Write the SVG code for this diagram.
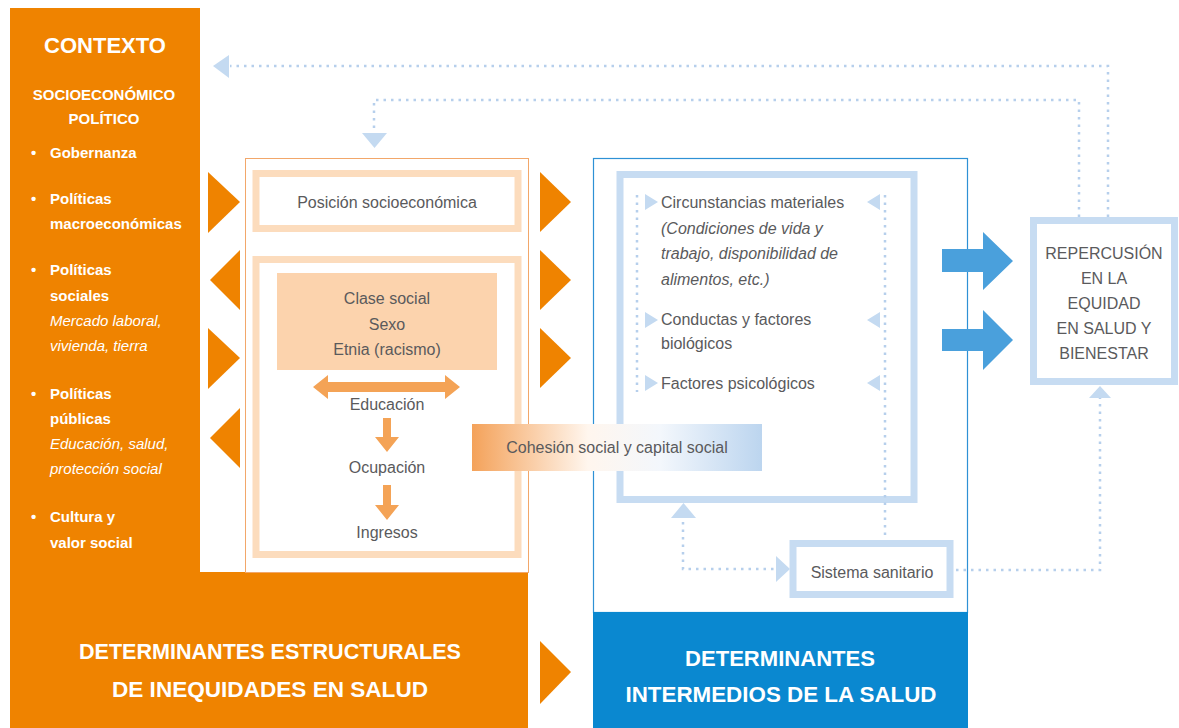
<svg xmlns="http://www.w3.org/2000/svg" width="1179" height="728" viewBox="0 0 1179 728">
<defs>
<style>
.t{font-family:"Liberation Sans",Arial,sans-serif;fill:#5a5a5c;font-size:16px}
.w{font-family:"Liberation Sans",Arial,sans-serif;fill:#fff;font-weight:bold;font-size:15px}
.wi{font-family:"Liberation Sans",Arial,sans-serif;fill:#fff;font-style:italic;font-size:15px}
.big{font-family:"Liberation Sans",Arial,sans-serif;fill:#fff;font-weight:bold;font-size:22px}
.dot{fill:none;stroke:#b6cfec;stroke-width:2.5;stroke-dasharray:2.5 5}
.lo{fill:none;stroke:#fcdcbd;stroke-width:7}
.lb{fill:none;stroke:#c7dcf2;stroke-width:7}
.or{fill:#ef8300}
.tri{fill:#c4daf1}
</style>
<linearGradient id="coh" x1="0" y1="0" x2="1" y2="0">
<stop offset="0" stop-color="#f4a25a"/>
<stop offset="0.4" stop-color="#fff6ee"/>
<stop offset="0.65" stop-color="#f3f7fc"/>
<stop offset="1" stop-color="#bcd5ef"/>
</linearGradient>
</defs>
<rect width="1179" height="728" fill="#fff"/>

<g id="contexto">
<path class="or" d="M10 8H200V572H528V728H10Z"/>
<text class="big" x="105" y="53" text-anchor="middle" font-size="23">CONTEXTO</text>
<text class="w" x="104" y="100" text-anchor="middle" font-size="14">SOCIOECONÓMICO</text>
<text class="w" x="104" y="124" text-anchor="middle" font-size="14">POLÍTICO</text>
<g class="w" font-size="16">
<text x="31" y="158">•</text>
<text x="31" y="204">•</text>
<text x="31" y="275">•</text>
<text x="31" y="399">•</text>
<text x="31" y="522">•</text>
</g>
<text class="w" x="50" y="158">Gobernanza</text>
<text class="w" x="50" y="204">Políticas</text>
<text class="w" x="50" y="229">macroeconómicas</text>
<text class="w" x="50" y="275">Políticas</text>
<text class="w" x="50" y="301">sociales</text>
<text class="wi" x="50" y="326">Mercado laboral,</text>
<text class="wi" x="50" y="351">vivienda, tierra</text>
<text class="w" x="50" y="399">Políticas</text>
<text class="w" x="50" y="424">públicas</text>
<text class="wi" x="50" y="449">Educación, salud,</text>
<text class="wi" x="50" y="474">protección social</text>
<text class="w" x="50" y="522">Cultura y</text>
<text class="w" x="50" y="548">valor social</text>
<text class="big" x="270" y="659" text-anchor="middle" textLength="382" lengthAdjust="spacingAndGlyphs">DETERMINANTES ESTRUCTURALES</text>
<text class="big" x="270" y="697" text-anchor="middle" textLength="316" lengthAdjust="spacingAndGlyphs">DE INEQUIDADES EN SALUD</text>
</g>

<g id="estructurales">
<rect x="245.5" y="158.5" width="283" height="414" fill="none" stroke="#f2a76a" stroke-width="1"/>
</g>

<g id="posicion">
<rect class="lo" x="256" y="173.5" width="262" height="55"/>
<text class="t" x="387" y="208" text-anchor="middle">Posición socioeconómica</text>
</g>

<g id="estratificacion">
<rect class="lo" x="256" y="259.5" width="262" height="295"/>
<rect x="277" y="273" width="220" height="97" fill="#fcd3ad"/>
<text class="t" x="387" y="304" text-anchor="middle">Clase social</text>
<text class="t" x="387" y="330" text-anchor="middle">Sexo</text>
<text class="t" x="387" y="355" text-anchor="middle">Etnia (racismo)</text>
<text class="t" x="387" y="410" text-anchor="middle">Educación</text>
<text class="t" x="387" y="473" text-anchor="middle">Ocupación</text>
<text class="t" x="387" y="538" text-anchor="middle">Ingresos</text>
</g>

<g id="intermedios">
<rect x="593.5" y="158.5" width="374" height="454" fill="none" stroke="#2e91d5" stroke-width="1.2"/>
<rect x="593" y="612" width="375" height="116" fill="#0a88d0"/>
<text class="big" x="780" y="666" text-anchor="middle" textLength="190" lengthAdjust="spacingAndGlyphs">DETERMINANTES</text>
<text class="big" x="781" y="702" text-anchor="middle" textLength="311" lengthAdjust="spacingAndGlyphs">INTERMEDIOS DE LA SALUD</text>
</g>

<g id="circunstancias">
<rect class="lb" x="620" y="174.5" width="294" height="325"/>
<text class="t" x="661" y="208">Circunstancias materiales</text>
<text class="t" x="661" y="234" font-style="italic">(Condiciones de vida y</text>
<text class="t" x="661" y="259" font-style="italic">trabajo, disponibilidad de</text>
<text class="t" x="661" y="285" font-style="italic">alimentos, etc.)</text>
<text class="t" x="661" y="325">Conductas y factores</text>
<text class="t" x="661" y="349">biológicos</text>
<text class="t" x="661" y="389">Factores psicológicos</text>
</g>

<g id="sistema">
<rect class="lb" x="793" y="543.5" width="157" height="51"/>
<text class="t" x="872" y="578" text-anchor="middle">Sistema sanitario</text>
</g>

<g id="repercusion">
<rect class="lb" x="1033.5" y="220.5" width="141" height="161"/>
<text class="t" x="1104" y="259" text-anchor="middle" font-size="15">REPERCUSIÓN</text>
<text class="t" x="1104" y="284" text-anchor="middle" font-size="15">EN LA</text>
<text class="t" x="1104" y="309" text-anchor="middle" font-size="15">EQUIDAD</text>
<text class="t" x="1104" y="334" text-anchor="middle" font-size="15">EN SALUD Y</text>
<text class="t" x="1104" y="359" text-anchor="middle" font-size="15">BIENESTAR</text>
</g>

<g id="cohesion">
<rect x="472" y="424" width="290" height="47" fill="url(#coh)"/>
<text class="t" x="617" y="453" text-anchor="middle">Cohesión social y capital social</text>
</g>

<g id="connectors">
<path class="or" d="M208 172L240 202L208 233Z"/>
<path class="or" d="M240 250L210 280L240 310Z"/>
<path class="or" d="M208 328L240 358L208 389Z"/>
<path class="or" d="M240 408L210 438L240 468Z"/>
<path class="or" d="M540 172L571 202L540 232Z"/>
<path class="or" d="M540 250L571 280L540 310Z"/>
<path class="or" d="M540 328L571 358L540 388Z"/>
<path class="or" d="M540 641L571 672L540 704Z"/>
<g fill="#f4a356">
<path d="M313 387L328 375V382H445V375L460 387L445 399V392H328V399Z"/>
<path d="M383 418H391V437H399L387 452L375 437H383Z"/>
<path d="M383 485H391V505H399L387 520L375 505H383Z"/>
</g>
<g fill="#4aa0dc">
<path d="M942 249H983V232L1013 261L983 290V272H942Z"/>
<path d="M942 329H983V310L1013 340L983 370V351H942Z"/>
</g>
<path class="dot" d="M1108 217V66H230"/>
<path class="tri" d="M213 66L229 55V78Z"/>
<path class="dot" d="M1079 217V100H374V132"/>
<path class="tri" d="M362 133H387L374.5 148Z"/>
<path class="dot" d="M637 195V392"/>
<path class="dot" d="M885 195V538"/>
<g class="tri">
<path d="M645 194L658 202L645 210Z"/>
<path d="M645 312L658 320L645 328Z"/>
<path d="M645 375L658 383L645 391Z"/>
<path d="M880 194L867 202L880 210Z"/>
<path d="M880 312L867 320L880 328Z"/>
<path d="M880 375L867 383L880 391Z"/>
</g>
<path class="dot" d="M683 522V569H776"/>
<path class="tri" d="M671 518L683.5 503L696 518Z"/>
<path class="tri" d="M776 556L790 569L776 582Z"/>
<path class="dot" d="M956 570H1100V398"/>
<path class="tri" d="M1089 398L1100 386L1111 398Z"/>
</g>
</svg>
